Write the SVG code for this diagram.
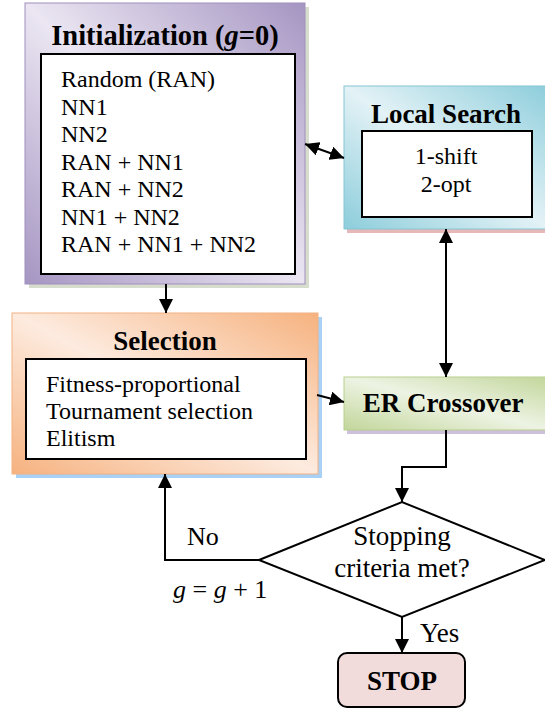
<svg xmlns="http://www.w3.org/2000/svg" width="545" height="710" viewBox="0 0 545 710">
<defs>
<linearGradient id="gInit" x1="1" y1="0" x2="0" y2="1"><stop offset="0" stop-color="#a595c2"/><stop offset="0.5" stop-color="#ebe6f2"/><stop offset="1" stop-color="#a595c2"/></linearGradient>
<linearGradient id="gLS" x1="1" y1="0" x2="0" y2="1"><stop offset="0" stop-color="#8ccddb"/><stop offset="0.5" stop-color="#e3f2f6"/><stop offset="1" stop-color="#8ccddb"/></linearGradient>
<linearGradient id="gSel" x1="1" y1="0" x2="0" y2="1"><stop offset="0" stop-color="#f6b27f"/><stop offset="0.5" stop-color="#fdebdf"/><stop offset="1" stop-color="#f6b27f"/></linearGradient>
<linearGradient id="gER" x1="1" y1="0" x2="0" y2="1"><stop offset="0" stop-color="#c2d69a"/><stop offset="0.5" stop-color="#edf3e3"/><stop offset="1" stop-color="#c2d69a"/></linearGradient>
<marker id="ah" markerWidth="14" markerHeight="14" refX="14" refY="7" markerUnits="userSpaceOnUse" orient="auto-start-reverse"><path d="M0,0 L14,7 L0,14 Z" fill="#000"/></marker>
</defs>
<style>
text{font-family:"Liberation Serif","Times New Roman",serif;fill:#000}
.t{font-size:27px;font-weight:bold;text-anchor:middle}
.b{font-size:24px}
.c{font-size:24px;text-anchor:middle}
.d{font-size:27px;text-anchor:middle}
.l{font-size:26px}
.inner{fill:#fff;stroke:#000;stroke-width:2}
.ln{fill:none;stroke:#000;stroke-width:2}
</style>
<g id="initialization">
<rect x="29" y="7" width="280" height="281" fill="#d6ddcc"/>
<rect x="25" y="3" width="280" height="281" fill="url(#gInit)" stroke="#a090bd" stroke-width="1"/>
<text class="t" x="165" y="45" style="font-size:28.5px">Initialization (<tspan font-style="italic">g</tspan>=0)</text>
<rect class="inner" x="41" y="54" width="254" height="220"/>
<text class="b" x="61" y="87">Random (RAN)</text>
<text class="b" x="61" y="114.5">NN1</text>
<text class="b" x="61" y="142">NN2</text>
<text class="b" x="61" y="169.5">RAN + NN1</text>
<text class="b" x="61" y="197">RAN + NN2</text>
<text class="b" x="61" y="224.5">NN1 + NN2</text>
<text class="b" x="61" y="252">RAN + NN1 + NN2</text>
</g>
<g id="local-search">
<rect x="347" y="89" width="203" height="144" fill="#e6b9b8"/>
<rect x="344" y="86" width="206" height="143" fill="url(#gLS)" stroke="#86c6d4" stroke-width="1"/>
<text class="t" x="446" y="123">Local Search</text>
<rect class="inner" x="362" y="131" width="170" height="86"/>
<text class="c" x="446" y="164">1-shift</text>
<text class="c" x="446" y="192">2-opt</text>
</g>
<g id="selection">
<rect x="16" y="317" width="306" height="161" fill="#a9d0f5"/>
<rect x="12" y="313" width="306" height="161" fill="url(#gSel)" stroke="#f4b183" stroke-width="1"/>
<text class="t" x="165" y="350">Selection</text>
<rect class="inner" x="26" y="359" width="280" height="100"/>
<text class="b" x="46" y="392">Fitness-proportional</text>
<text class="b" x="46" y="419">Tournament selection</text>
<text class="b" x="46" y="446">Elitism</text>
</g>
<g id="er-crossover">
<rect x="347" y="381" width="203" height="53" fill="#ccc0da"/>
<rect x="344" y="377" width="206" height="53" fill="url(#gER)" stroke="#b8cf8e" stroke-width="1"/>
<text class="t" x="443" y="412">ER Crossover</text>
</g>
<g id="stopping">
<polygon points="259,560 402,502 545,560 402,617" fill="#fff" stroke="#000" stroke-width="2"/>
<text class="d" x="402" y="545">Stopping</text>
<text class="d" x="402" y="577">criteria met?</text>
</g>
<g id="stop">
<rect x="338" y="653" width="127" height="54" rx="9" fill="#f2dcdb" stroke="#000" stroke-width="2"/>
<text class="t" x="402" y="690">STOP</text>
</g>
<g id="connectors">
<line class="ln" x1="166" y1="284" x2="166" y2="313" marker-end="url(#ah)"/>
<line class="ln" x1="305" y1="144" x2="344" y2="158" marker-start="url(#ah)" marker-end="url(#ah)"/>
<line class="ln" x1="446" y1="229" x2="446" y2="377" marker-start="url(#ah)" marker-end="url(#ah)"/>
<line class="ln" x1="317" y1="395" x2="344" y2="402" marker-end="url(#ah)"/>
<polyline class="ln" points="446,430 446,467 402,467 402,502" marker-end="url(#ah)"/>
<polyline class="ln" points="259,560 165,560 165,474" marker-end="url(#ah)"/>
<line class="ln" x1="402" y1="617" x2="402" y2="653" marker-end="url(#ah)"/>
<text class="l" x="187" y="545">No</text>
<text class="l" x="173" y="598"><tspan font-style="italic">g</tspan> = <tspan font-style="italic">g</tspan> + 1</text>
<text class="l" x="420" y="642" style="font-size:27px">Yes</text>
</g>
</svg>
